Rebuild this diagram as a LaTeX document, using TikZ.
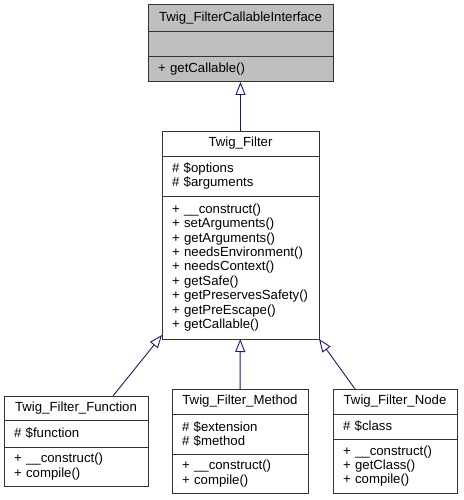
\documentclass[tikz,border=0pt]{standalone}
\usepackage{fontspec}
\setmainfont{Liberation Sans}
\usetikzlibrary{positioning,arrows.meta}
\definecolor{edgeblue}{HTML}{191970}
\definecolor{ifacegray}{HTML}{BFBFBF}
\definecolor{boxline}{HTML}{333333}

\begin{document}
\begin{tikzpicture}[x=1pt,y=-1pt,
	part/.style={draw=boxline,line width=1pt,outer sep=0pt,inner xsep=10pt,inner ysep=0pt,font=\fontsize{13.2}{14.4}\selectfont},
	head/.style={part,align=center},
	body/.style={part,align=left},
	inherit/.style={draw=edgeblue,line width=0.9pt,-{Triangle[open,length=13pt,width=10pt]}}]
	\useasboundingbox (0,0) rectangle (463,500);

	\node[head,fill=ifacegray,text width=165pt,minimum height=27pt,anchor=north west] (ifacetitle) at (148,5) {Twig\_FilterCallableInterface};
	\node[body,fill=ifacegray,text width=165pt,minimum height=25pt,below=0pt of ifacetitle] (ifaceattr) {};
	\node[body,fill=ifacegray,text width=165pt,minimum height=25pt,below=0pt of ifaceattr] (ifacemeth) {+ getCallable()};

	\node[head,text width=137pt,minimum height=25pt,anchor=north west] (filtertitle) at (162,131) {Twig\_Filter};
	\node[body,text width=137pt,minimum height=40pt,below=0pt of filtertitle] (filterattr) {\# \$options\\\# \$arguments};
	\node[body,text width=137pt,minimum height=143pt,below=0pt of filterattr] (filtermeth) {+ \_\_construct()\\+ setArguments()\\+ getArguments()\\+ needsEnvironment()\\+ needsContext()\\+ getSafe()\\+ getPreservesSafety()\\+ getPreEscape()\\+ getCallable()};

	\node[head,text width=124pt,minimum height=24pt,anchor=north west] (functitle) at (4,396) {Twig\_Filter\_Function};
	\node[body,text width=124pt,minimum height=27pt,below=0pt of functitle] (funcattr) {\# \$function};
	\node[body,text width=124pt,minimum height=39pt,below=0pt of funcattr] (funcmeth) {+ \_\_construct()\\+ compile()};

	\node[head,text width=116pt,minimum height=25pt,anchor=north west] (methtitle) at (172,389) {Twig\_Filter\_Method};
	\node[body,text width=116pt,minimum height=40pt,below=0pt of methtitle] (methattr) {\# \$extension\\\# \$method};
	\node[body,text width=116pt,minimum height=39pt,below=0pt of methattr] (methmeth) {+ \_\_construct()\\+ compile()};

	\node[head,text width=104pt,minimum height=25pt,anchor=north west] (nodetitle) at (333,389) {Twig\_Filter\_Node};
	\node[body,text width=104pt,minimum height=25pt,below=0pt of nodetitle] (nodeattr) {\# \$class};
	\node[body,text width=104pt,minimum height=54pt,below=0pt of nodeattr] (nodemeth) {+ \_\_construct()\\+ getClass()\\+ compile()};

	\draw[inherit] (filtertitle) -- (ifacemeth);
	\draw[inherit] ([xshift=37pt]functitle.north) -- ([yshift=4pt]filtermeth.south west);
	\draw[inherit] (methtitle) -- (filtermeth);
	\draw[inherit] ([xshift=-40pt]nodetitle.north) -- (filtermeth.south east);
\end{tikzpicture}
\end{document}
